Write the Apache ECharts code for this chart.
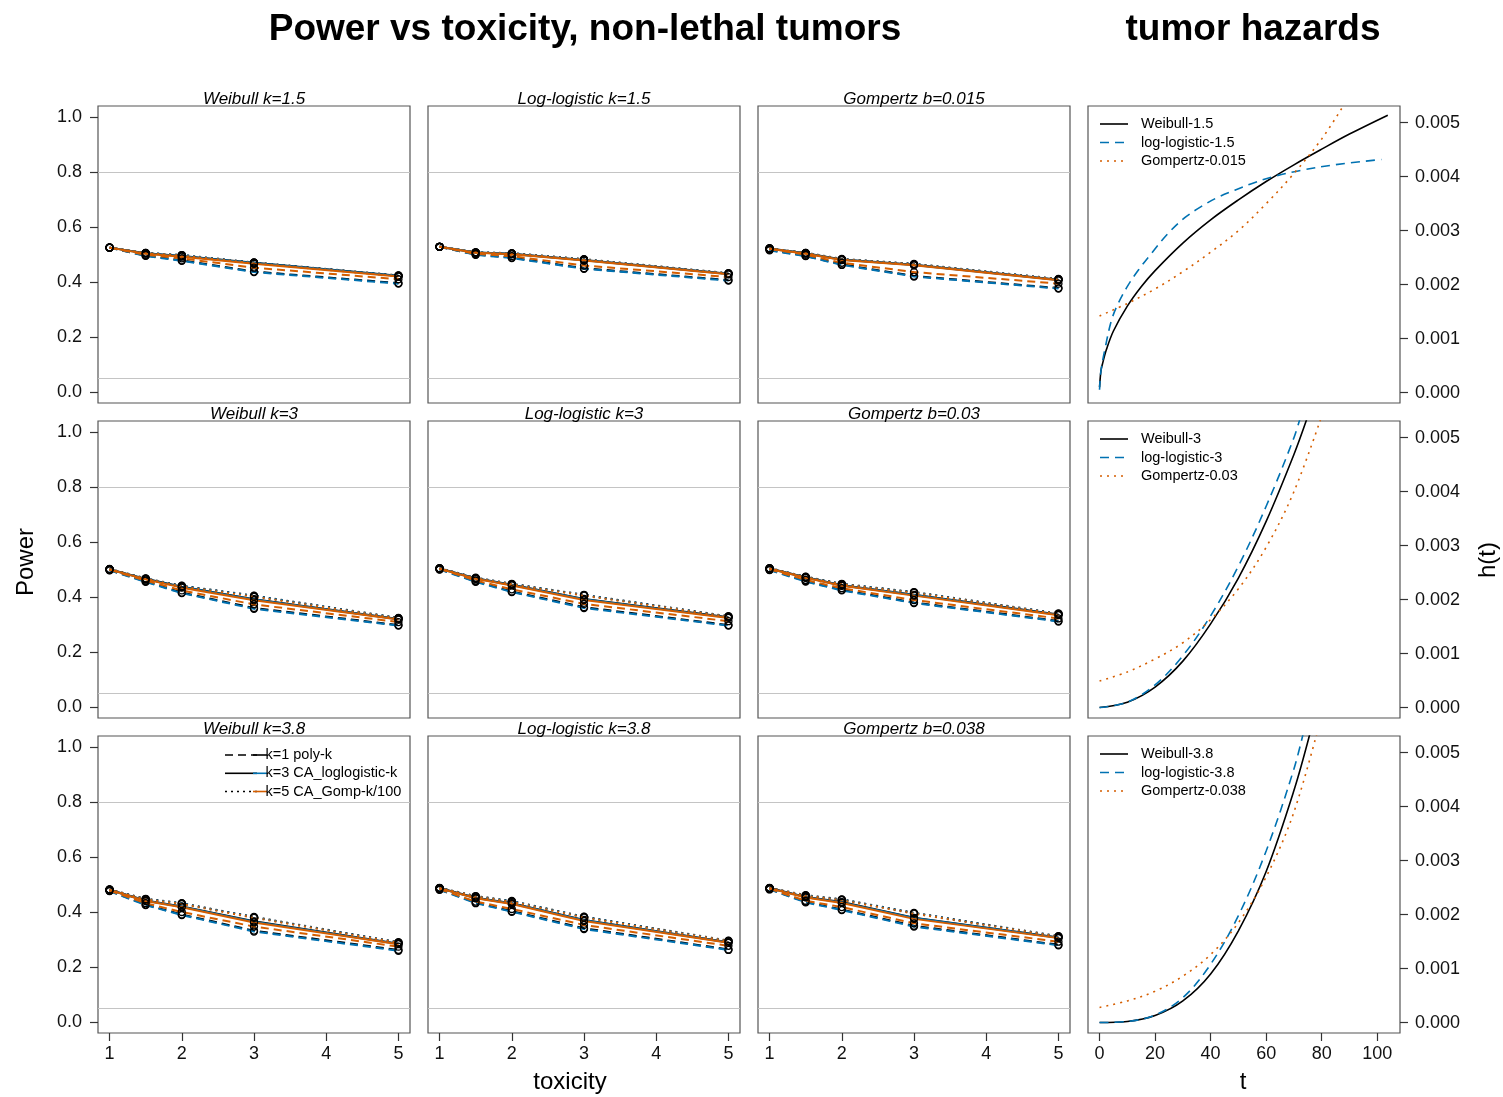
<!DOCTYPE html>
<html><head><meta charset="utf-8">
<script src="https://cdn.jsdelivr.net/npm/echarts@6/dist/echarts.min.js"></script>
<style>html,body{margin:0;padding:0;background:#fff}#c{width:1503px;height:1097px}</style>
</head><body><div id="c"></div>
<script>
// ---------- data ----------
const toxicity = [1, 1.5, 2, 3, 5];
const kLevels = ['k=1', 'k=3', 'k=5'];
const methods = ['poly-k', 'CA_loglogistic-k', 'CA_Gomp-k/100'];
const panelTitles = ['Weibull k=1.5', 'Log-logistic k=1.5', 'Gompertz b=0.015',
                     'Weibull k=3', 'Log-logistic k=3', 'Gompertz b=0.03',
                     'Weibull k=3.8', 'Log-logistic k=3.8', 'Gompertz b=0.038'];
const powerTicks = [0, 0.2, 0.4, 0.6, 0.8, 1.0];
const toxTicks = [1, 2, 3, 4, 5];
const tTicks = [0, 20, 40, 60, 80, 100];
const hTicks = [0, 0.001, 0.002, 0.003, 0.004, 0.005];
const refLines = [0.05, 0.8];

// power per panel: [method][k] -> values at toxicity
const powWeib15 = [
  [[0.525,0.496,0.479,0.438,0.396],[0.525,0.505,0.495,0.470,0.423],[0.525,0.506,0.498,0.471,0.424]],
  [[0.525,0.495,0.477,0.436,0.394],[0.525,0.504,0.494,0.469,0.422],[0.525,0.506,0.498,0.470,0.423]],
  [[0.525,0.499,0.486,0.452,0.410],[0.525,0.503,0.492,0.466,0.420],[0.525,0.505,0.496,0.468,0.421]]];
const powLL15 = [
  [[0.528,0.500,0.489,0.450,0.407],[0.528,0.507,0.503,0.480,0.430],[0.528,0.508,0.505,0.483,0.432]],
  [[0.528,0.499,0.487,0.448,0.405],[0.528,0.507,0.502,0.479,0.429],[0.528,0.508,0.504,0.482,0.431]],
  [[0.528,0.502,0.494,0.460,0.418],[0.528,0.506,0.501,0.478,0.428],[0.528,0.507,0.503,0.481,0.430]]];
const powGomp015 = [
  [[0.517,0.495,0.464,0.422,0.378],[0.522,0.505,0.482,0.463,0.408],[0.522,0.506,0.484,0.466,0.411]],
  [[0.515,0.494,0.462,0.420,0.376],[0.521,0.504,0.481,0.462,0.407],[0.522,0.506,0.483,0.465,0.410]],
  [[0.520,0.499,0.470,0.436,0.394],[0.521,0.503,0.480,0.461,0.406],[0.522,0.505,0.482,0.464,0.409]]];
const powWeib3 = [
  [[0.498,0.457,0.416,0.360,0.298],[0.501,0.466,0.437,0.392,0.320],[0.502,0.468,0.441,0.405,0.324]],
  [[0.497,0.455,0.414,0.357,0.296],[0.500,0.465,0.436,0.391,0.319],[0.501,0.467,0.440,0.404,0.323]],
  [[0.499,0.460,0.424,0.373,0.309],[0.500,0.464,0.434,0.388,0.318],[0.501,0.466,0.438,0.401,0.322]]];
const powLL3 = [
  [[0.501,0.457,0.420,0.363,0.298],[0.504,0.468,0.445,0.393,0.326],[0.505,0.470,0.448,0.408,0.330]],
  [[0.500,0.455,0.418,0.360,0.296],[0.503,0.467,0.444,0.392,0.325],[0.504,0.469,0.447,0.407,0.329]],
  [[0.502,0.460,0.428,0.375,0.312],[0.503,0.466,0.442,0.389,0.324],[0.504,0.468,0.446,0.405,0.328]]];
const powGomp03 = [
  [[0.499,0.458,0.426,0.380,0.313],[0.504,0.472,0.443,0.408,0.336],[0.505,0.474,0.448,0.418,0.340]],
  [[0.498,0.456,0.424,0.378,0.311],[0.503,0.471,0.442,0.407,0.335],[0.504,0.473,0.447,0.417,0.339]],
  [[0.501,0.462,0.432,0.389,0.322],[0.503,0.470,0.441,0.405,0.334],[0.504,0.472,0.446,0.415,0.338]]];
const powWeib38 = [
  [[0.477,0.427,0.391,0.332,0.262],[0.481,0.442,0.420,0.366,0.285],[0.482,0.448,0.432,0.382,0.290]],
  [[0.476,0.425,0.389,0.329,0.259],[0.480,0.441,0.419,0.365,0.284],[0.481,0.447,0.431,0.381,0.289]],
  [[0.478,0.432,0.400,0.347,0.274],[0.480,0.440,0.417,0.362,0.283],[0.481,0.446,0.429,0.379,0.288]]];
const powLL38 = [
  [[0.482,0.434,0.403,0.341,0.264],[0.487,0.452,0.432,0.371,0.290],[0.488,0.458,0.440,0.383,0.296]],
  [[0.481,0.432,0.401,0.338,0.262],[0.486,0.451,0.431,0.370,0.289],[0.487,0.457,0.439,0.382,0.295]],
  [[0.483,0.438,0.411,0.353,0.277],[0.486,0.450,0.429,0.367,0.288],[0.487,0.456,0.437,0.380,0.294]]];
const powGomp038 = [
  [[0.483,0.437,0.409,0.350,0.281],[0.487,0.455,0.436,0.379,0.307],[0.488,0.461,0.446,0.397,0.312]],
  [[0.482,0.435,0.407,0.347,0.279],[0.486,0.454,0.435,0.378,0.306],[0.487,0.460,0.445,0.396,0.311]],
  [[0.484,0.441,0.418,0.359,0.292],[0.486,0.453,0.433,0.375,0.305],[0.487,0.459,0.443,0.394,0.310]]];
const powerPanels = [powWeib15, powLL15, powGomp015, powWeib3, powLL3, powGomp03, powWeib38, powLL38, powGomp038];

// hazard curves [t, h(t)]
const hazWeib15 = [[0,0.0001],[0.5,0.0004],[1,0.00052],[2.5,0.0008],[5,0.00114],[10,0.0016],[15,0.00196],[20,0.00226],[30,0.00277],[40,0.0032],[50,0.00357],[60,0.00391],[70,0.00422],[80,0.00451],[90,0.00479],[103.8,0.00514]];
const hazLL15 = [[0,0.00005],[0.5,0.0004],[2,0.00082],[4.3,0.00134],[6.7,0.00165],[10.3,0.00199],[14,0.00227],[18.7,0.00258],[24.7,0.00295],[30.7,0.00324],[36.7,0.00345],[42.7,0.00362],[48.7,0.00375],[54.7,0.00387],[62.5,0.004],[72.7,0.00412],[84.7,0.00422],[101.5,0.00432]];
const hazGomp015 = [[0,0.00142],[10,0.00165],[20,0.00192],[30,0.00224],[40,0.0026],[50,0.003],[60,0.0035],[70,0.00406],[80,0.0047],[88,0.00533]];
const hazWeib3 = [[0,0],[10,0.0001],[20,0.00038],[30,0.00086],[40,0.00155],[50,0.0024],[60,0.00345],[70,0.00469],[75,0.0054]];
const hazLL3 = [[0,0],[10,0.0001],[20,0.00042],[30,0.00096],[40,0.0017],[50,0.00262],[60,0.00373],[70,0.005],[73,0.0055]];
const hazGomp03 = [[0,0.00049],[10,0.00066],[20,0.0009],[30,0.0012],[40,0.00163],[50,0.0022],[60,0.00297],[70,0.004],[80,0.0054]];
const hazWeib38 = [[0,0],[10,0.00002],[20,0.00013],[30,0.0004],[40,0.0009],[50,0.0017],[60,0.0028],[70,0.0043],[76,0.0054]];
const hazLL38 = [[0,0],[10,0.00002],[20,0.00014],[30,0.00046],[40,0.00108],[50,0.00198],[60,0.00318],[70,0.0047],[74,0.0055]];
const hazGomp038 = [[0,0.00028],[10,0.0004],[20,0.00058],[30,0.00086],[40,0.00126],[50,0.00185],[60,0.0027],[70,0.0039],[80,0.0057]];
const hazNames = [['Weibull-1.5','log-logistic-1.5','Gompertz-0.015'],
                  ['Weibull-3','log-logistic-3','Gompertz-0.03'],
                  ['Weibull-3.8','log-logistic-3.8','Gompertz-0.038']];
const hazData = [[hazWeib15, hazLL15, hazGomp015],[hazWeib3, hazLL3, hazGomp03],[hazWeib38, hazLL38, hazGomp038]];

// ---------- styling / layout ----------
const FONT = '"Liberation Sans", Arial, Helvetica, sans-serif';
const colors = ['#000000', '#0072B2', '#D55E00'];
const powDash = [[8,5], 'solid', [2,4]];
const hazDash = ['solid', [9,6], [2,5]];
const colLeft = [98, 428, 758, 1088];
const rowTop = [106, 421, 736];
const W = 312, H = 297;

const grid = [], xAxis = [], yAxis = [], series = [], graphic = [];
const tickStyle = {lineStyle:{color:'#333', width:1.2}};
const labelStyle = {color:'#111', fontSize:18, fontFamily:FONT};
const noLine = {show:false, onZero:false};

for (let r = 0; r < 3; r++) {
  for (let c = 0; c < 3; c++) {
    const gi = r*3 + c;
    grid.push({left: colLeft[c], top: rowTop[r], width: W, height: H, show: true,
      borderColor: '#555', borderWidth: 1.2, backgroundColor: 'transparent'});
    xAxis.push({gridIndex: gi, type: 'value', position: 'bottom', min: 0.84, max: 5.16,
      axisLine: noLine, splitLine:{show:false},
      axisTick:{show: r === 2, length: 8, customValues: toxTicks, ...tickStyle},
      axisLabel:{show: r === 2, customValues: toxTicks, margin: 12, ...labelStyle}});
    yAxis.push({gridIndex: gi, type: 'value', position: 'left', min: -0.04, max: 1.04,
      axisLine: noLine, splitLine:{show:false},
      axisTick:{show: c === 0, length: 8, customValues: powerTicks, ...tickStyle},
      axisLabel:{show: c === 0, customValues: powerTicks, margin: 16, ...labelStyle,
        formatter: v => Number(v).toFixed(1)}});
    series.push({type:'line', xAxisIndex: gi, yAxisIndex: gi, data: [], silent: true, z: 1,
      markLine:{silent:true, symbol:['none','none'], label:{show:false}, animation:false,
        lineStyle:{color:'#c4c4c4', type:'solid', width:1.2},
        data: refLines.map(v => ({yAxis: v}))}});
    const panel = powerPanels[gi];
    for (let m = 0; m < 3; m++) {
      for (let k = 0; k < 3; k++) {
        series.push({type:'line', name: kLevels[k] + ' ' + methods[m],
          xAxisIndex: gi, yAxisIndex: gi, z: 2 + m,
          data: toxicity.map((x, i) => [x, panel[m][k][i]]),
          symbol: 'circle', symbolSize: 7, showSymbol: true,
          itemStyle:{color:'rgba(0,0,0,0)', borderColor:'#000', borderWidth:1.3},
          lineStyle:{color: colors[m], width: 2, type: powDash[k]},
          emphasis:{disabled:true}});
      }
    }
    graphic.push({type:'text', x: colLeft[c] + W/2, y: rowTop[r] - 7,
      style:{text: panelTitles[gi], fill:'#000', font: 'italic 17px ' + FONT, align:'center', verticalAlign:'middle'}});
  }
}
// hazard panels
for (let r = 0; r < 3; r++) {
  const gi = 9 + r;
  grid.push({left: colLeft[3], top: rowTop[r], width: W, height: H, show: true,
    borderColor: '#555', borderWidth: 1.2, backgroundColor: 'transparent'});
  xAxis.push({gridIndex: gi, type: 'value', position: 'bottom', min: -4.16, max: 108.2,
    axisLine: noLine, splitLine:{show:false},
    axisTick:{show: r === 2, length: 8, customValues: tTicks, ...tickStyle},
    axisLabel:{show: r === 2, customValues: tTicks, margin: 12, ...labelStyle}});
  yAxis.push({gridIndex: gi, type: 'value', position: 'right', min: -0.000194, max: 0.00531,
    axisLine: noLine, splitLine:{show:false},
    axisTick:{show: true, length: 8, customValues: hTicks, ...tickStyle},
    axisLabel:{show: true, customValues: hTicks, margin: 15, ...labelStyle,
      formatter: v => Number(v).toFixed(3)}});
  for (let j = 0; j < 3; j++) {
    series.push({type:'line', name: hazNames[r][j], xAxisIndex: gi, yAxisIndex: gi, z: 2,
      data: hazData[r][j], showSymbol: false, smooth: 0.35, clip: true,
      lineStyle:{color: colors[j], width: 1.6, type: hazDash[j]}, emphasis:{disabled:true}});
    const ly = rowTop[r] + 18 + j*18.5;
    graphic.push({type:'line', shape:{x1:1100, y1:ly, x2:1128, y2:ly},
      style:{stroke: colors[j], lineWidth:1.6, lineDash: j === 0 ? null : hazDash[j]}});
    graphic.push({type:'text', x:1141, y:ly,
      style:{text: hazNames[r][j], fill:'#000', font:'14.5px ' + FONT, verticalAlign:'middle'}});
  }
}
// power legend in Weibull k=3.8 panel
const legY = [755, 773.3, 791.5];
const legText = ['k=1 poly-k', 'k=3 CA_loglogistic-k', 'k=5 CA_Gomp-k/100'];
for (let i = 0; i < 3; i++) {
  graphic.push({type:'line', shape:{x1:225, y1:legY[i], x2:257, y2:legY[i]},
    style:{stroke:'#000', lineWidth:1.6, lineDash: i === 1 ? null : powDash[i === 0 ? 0 : 2]}});
  graphic.push({type:'line', shape:{x1:253, y1:legY[i], x2:267, y2:legY[i]},
    style:{stroke: colors[i], lineWidth:1.6}});
  graphic.push({type:'text', x:265.5, y:legY[i],
    style:{text: legText[i], fill:'#000', font:'14.5px ' + FONT, verticalAlign:'middle'}});
}
// titles and axis names
graphic.push({type:'text', x:585, y:30, style:{text:'Power vs toxicity, non-lethal tumors', fill:'#000',
  font:'bold 37px ' + FONT, align:'center', verticalAlign:'middle'}});
graphic.push({type:'text', x:1253, y:30, style:{text:'tumor hazards', fill:'#000',
  font:'bold 37px ' + FONT, align:'center', verticalAlign:'middle'}});
graphic.push({type:'text', x:570, y:1082, style:{text:'toxicity', fill:'#000', font:'24px ' + FONT, align:'center', verticalAlign:'middle'}});
graphic.push({type:'text', x:1243, y:1082, style:{text:'t', fill:'#000', font:'24px ' + FONT, align:'center', verticalAlign:'middle'}});
graphic.push({type:'text', x:26, y:562, rotation: Math.PI/2, style:{text:'Power', fill:'#000', font:'24px ' + FONT, align:'center', verticalAlign:'middle'}});
graphic.push({type:'text', x:1488, y:560, rotation: Math.PI/2, style:{text:'h(t)', fill:'#000', font:'24px ' + FONT, align:'center', verticalAlign:'middle'}});

const chart = echarts.init(document.getElementById('c'), null, {renderer:'canvas'});
chart.setOption({animation:false, backgroundColor:'#fff', grid, xAxis, yAxis, series,
  graphic: {elements: graphic}, tooltip:{show:false}});
</script></body></html>
